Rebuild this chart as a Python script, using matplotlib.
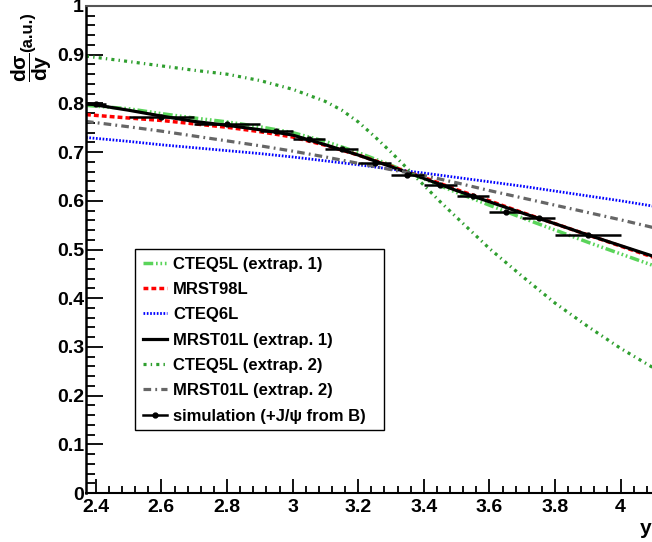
import matplotlib
matplotlib.use("Agg")
import matplotlib.pyplot as plt
from matplotlib.lines import Line2D
from matplotlib.patches import Rectangle
from matplotlib.ticker import MultipleLocator

plt.rcParams['font.family'] = ['Liberation Sans', 'DejaVu Sans']
plt.rcParams['font.weight'] = 'bold'
plt.rcParams['mathtext.fontset'] = 'custom'
plt.rcParams['mathtext.rm'] = 'Liberation Sans:bold'
plt.rcParams['mathtext.it'] = 'Liberation Sans:bold'
plt.rcParams['mathtext.bf'] = 'Liberation Sans:bold'
plt.rcParams['lines.scale_dashes'] = False

# rapidity grid for the model curves
y_grid = [2.37, 2.5, 2.6, 2.7, 2.8, 2.9, 3.0, 3.1, 3.2, 3.3, 3.4, 3.5, 3.6, 3.7, 3.8, 3.9, 4.0, 4.1, 4.2]
cteq5l_ex1 = [0.796, 0.789, 0.779, 0.770, 0.762, 0.752, 0.740, 0.722, 0.699, 0.673, 0.645, 0.617, 0.591, 0.565, 0.540, 0.515, 0.491, 0.467, 0.443]
mrst98l = [0.777, 0.770, 0.765, 0.758, 0.751, 0.742, 0.731, 0.714, 0.694, 0.671, 0.648, 0.623, 0.600, 0.576, 0.553, 0.530, 0.507, 0.484, 0.462]
cteq6l = [0.730, 0.722, 0.715, 0.709, 0.703, 0.697, 0.690, 0.682, 0.674, 0.665, 0.657, 0.648, 0.639, 0.630, 0.620, 0.610, 0.600, 0.589, 0.578]
mrst01l_ex1 = [0.800, 0.786, 0.774, 0.763, 0.755, 0.746, 0.735, 0.715, 0.694, 0.670, 0.646, 0.621, 0.598, 0.575, 0.553, 0.530, 0.508, 0.486, 0.465]
mrst01l_ex2 = [0.763, 0.752, 0.743, 0.733, 0.723, 0.713, 0.702, 0.690, 0.677, 0.664, 0.652, 0.637, 0.621, 0.606, 0.591, 0.576, 0.561, 0.545, 0.530]

# CTEQ5L extrap. 2 needs a finer grid (steep drop)
y_grid2 = [2.37, 2.5, 2.6, 2.7, 2.8, 2.9, 3.0, 3.1, 3.15, 3.2, 3.25, 3.3, 3.35, 3.4, 3.45, 3.5, 3.55, 3.6, 3.7, 3.8, 3.9, 4.0, 4.1, 4.2]
cteq5l_ex2 = [0.897, 0.886, 0.877, 0.868, 0.860, 0.847, 0.829, 0.804, 0.786, 0.762, 0.732, 0.700, 0.666, 0.632, 0.598, 0.566, 0.534, 0.502, 0.445, 0.390, 0.342, 0.297, 0.257, 0.220]

# simulation (+J/psi from B)
sim_y = [2.40, 2.60, 2.80, 2.95, 3.05, 3.15, 3.25, 3.35, 3.45, 3.55, 3.65, 3.75, 3.90]
sim_yerr = [0.03, 0.10, 0.10, 0.05, 0.05, 0.05, 0.05, 0.05, 0.05, 0.05, 0.05, 0.05, 0.10]
sim_val = [0.799, 0.773, 0.757, 0.744, 0.727, 0.706, 0.678, 0.653, 0.633, 0.610, 0.576, 0.564, 0.530]

xtick_vals = [2.4, 2.6, 2.8, 3.0, 3.2, 3.4, 3.6, 3.8, 4.0]
xtick_labels = ['2.4', '2.6', '2.8', '3', '3.2', '3.4', '3.6', '3.8', '4']
ytick_vals = [0, 0.1, 0.2, 0.3, 0.4, 0.5, 0.6, 0.7, 0.8, 0.9, 1.0]
ytick_labels = ['0', '0.1', '0.2', '0.3', '0.4', '0.5', '0.6', '0.7', '0.8', '0.9', '1']

W, H = 652, 542
fig = plt.figure(figsize=(W / 100, H / 100), dpi=100)
ax = fig.add_axes([86 / W, 1 - 493 / H, 633 / W, 487 / H])

c_light = '#5ad45a'
c_dark = '#2f9f2f'
ax.plot(y_grid, cteq5l_ex1, color=c_light, lw=2.5, dashes=(7, 2, 1.2, 2, 1.2, 2, 1.2, 2), label='CTEQ5L (extrap. 1)')
ax.plot(y_grid, mrst98l, color='#ff0000', lw=2.5, dashes=(3.5, 2.2), label='MRST98L')
ax.plot(y_grid, cteq6l, color='#0000ff', lw=2, dashes=(1.2, 1.2), label='CTEQ6L')
ax.plot(y_grid, mrst01l_ex1, color='black', lw=2.3, label='MRST01L (extrap. 1)')
ax.plot(y_grid2, cteq5l_ex2, color=c_dark, lw=2.3, dashes=(2.2, 3, 1, 3), label='CTEQ5L (extrap. 2)')
ax.plot(y_grid, mrst01l_ex2, color='#666666', lw=2.3, dashes=(5.5, 3, 1.3, 3), label='MRST01L (extrap. 2)')
ax.errorbar(sim_y, sim_val, xerr=sim_yerr, fmt='o', color='black', ms=3.5, elinewidth=1.8, capsize=0, zorder=5)

ax.set_xlim(2.37, 4.3)
ax.set_ylim(0, 1)
ax.set_xticks(xtick_vals)
ax.set_xticklabels(xtick_labels)
ax.set_yticks(ytick_vals)
ax.set_yticklabels(ytick_labels)
ax.xaxis.set_minor_locator(MultipleLocator(0.04))
ax.yaxis.set_minor_locator(MultipleLocator(0.02))
ax.tick_params(axis='both', which='both', direction='in', top=False, right=False, labelsize=14, width=1.3)
ax.tick_params(axis='x', which='major', length=10, pad=4)
ax.tick_params(axis='x', which='minor', length=5)
ax.tick_params(axis='y', which='major', length=12, pad=1.5)
ax.tick_params(axis='y', which='minor', length=6.5)
for lab in ax.get_xticklabels() + ax.get_yticklabels():
    lab.set_fontweight('bold')
ax.spines['left'].set_linewidth(1.8)
ax.spines['bottom'].set_linewidth(1.5)
ax.spines['top'].set_linewidth(1.5)
ax.spines['top'].set_color('#555555')
ax.spines['right'].set_visible(False)

handles, labels = ax.get_legend_handles_labels()
sim_handle = Line2D([], [], color='black', lw=1.8, marker='o', ms=3.5)
handles.append(sim_handle)
labels.append('simulation (+J/\u03c8 from B)')
leg = ax.legend(handles, labels, loc='upper left', bbox_to_anchor=(135 / W, 1 - 249 / H),
                bbox_transform=fig.transFigure, borderaxespad=0,
                handlelength=1.45, handletextpad=0.4, labelspacing=0.62, borderpad=0.45,
                frameon=False, prop={'weight': 'bold', 'size': 12})
# ROOT-style legend box
fig.add_artist(Rectangle((135 / W, 1 - 430 / H), 249 / W, 181 / H, transform=fig.transFigure,
                         fill=False, lw=1.0, ec='black'))

# y-axis title: fraction + units
fig.text(9 / W, 1 - 53 / H, r'$\dfrac{d\sigma}{dy}$', rotation=90, ha='left', va='top', fontsize=15, fontweight='bold')
fig.text(20 / W, 1 - 12 / H, '(a.u.)', rotation=90, ha='left', va='top', fontsize=12, fontweight='bold')
fig.text(651 / W, 1 - 529 / H, 'y', ha='right', va='center', fontsize=15, fontweight='bold')

fig.savefig('out.png', dpi=100)
